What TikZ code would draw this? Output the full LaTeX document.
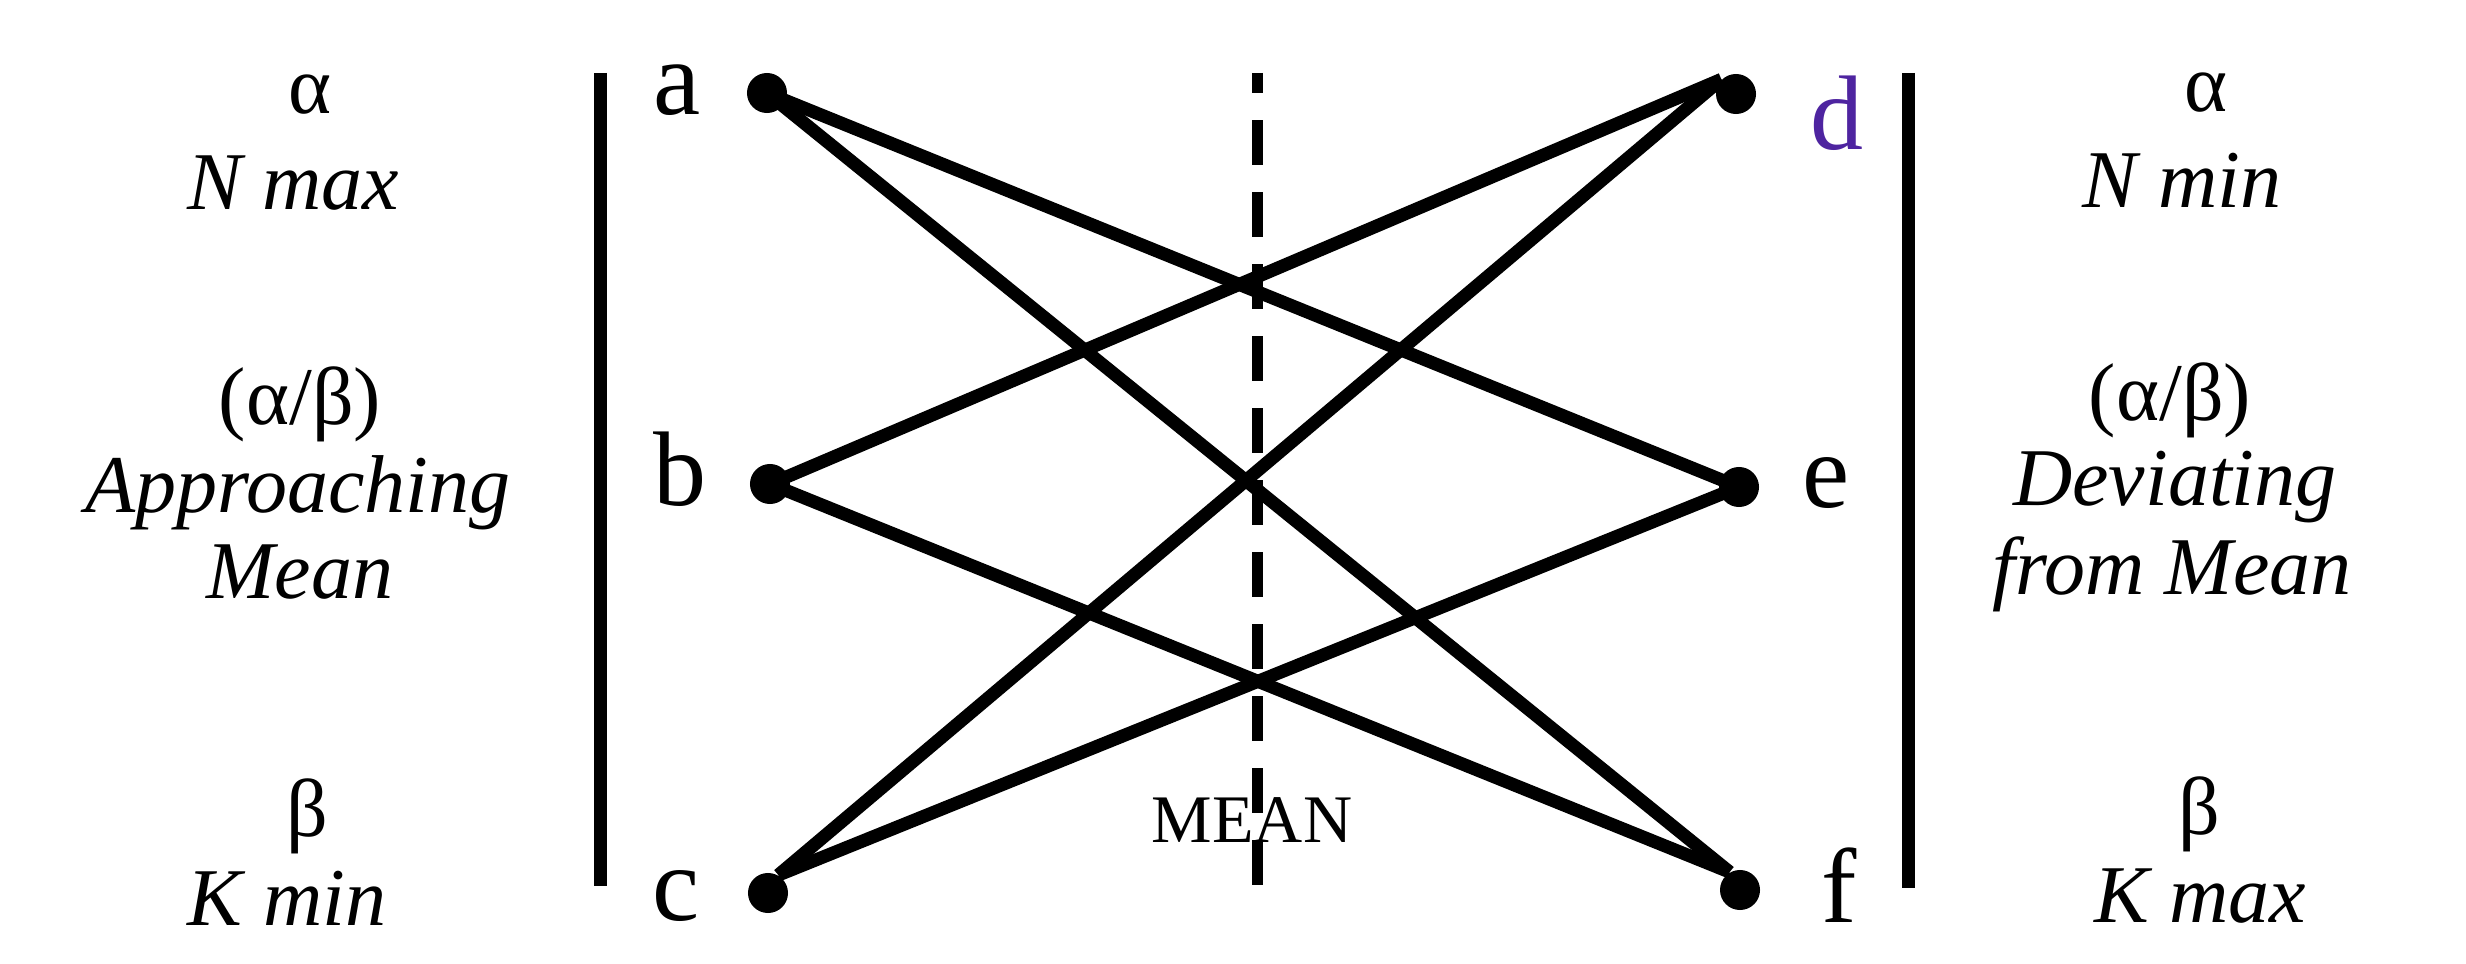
\documentclass[tikz,border=0pt]{standalone}
\usepackage{fontspec}
\setmainfont{Liberation Serif}
\definecolor{dpurple}{RGB}{78,36,160}
\begin{document}
\begin{tikzpicture}[x=0.01cm,y=-0.01cm,
  dot/.style={circle,fill=black,inner sep=0pt,minimum size=0.4cm},
  link/.style={line width=0.13cm},
  barline/.style={line width=0.13cm},
  meanline/.style={line width=0.11cm,dash pattern=on 0.45cm off 0.27cm,dash phase=0.25cm},
  lbl/.style={anchor=base,inner sep=0pt,font=\fontsize{1.06cm}{1.2cm}\selectfont},
  txt/.style={anchor=base,inner sep=0pt,font=\fontsize{0.82cm}{0.98cm}\selectfont},
  meantxt/.style={anchor=base,inner sep=0pt,font=\fontsize{0.68cm}{0.8cm}\selectfont},
  ]
\useasboundingbox (0,0) rectangle (2466,964);

% side bars
\coordinate (lbt) at (600,73);
\coordinate (lbb) at (600,886);
\coordinate (rbt) at (1908,73);
\coordinate (rbb) at (1908,888);
\draw[barline] (lbt) -- (lbb);
\draw[barline] (rbt) -- (rbb);

% mean line
\coordinate (mtop) at (1257,73);
\coordinate (mbot) at (1257,893);
\draw[meanline] (mtop) -- (mbot);
\node[meantxt] (meanlbl) at (1252,842) {MEAN};

% dots
\node[dot] (a) at (767,93) {};
\node[dot] (b) at (770,484) {};
\node[dot] (c) at (768,893) {};
\node[dot] (d) at (1736,94) {};
\node[dot] (e) at (1739,487) {};
\node[dot] (f) at (1740,890) {};

% connectors
\draw[link] (a.center) -- (e.center);
\draw[link] (a.center) -- (f.120);
\draw[link] (b.center) -- (d.135);
\draw[link] (b.center) -- (f.120);
\draw[link] (c.60) -- (d.135);
\draw[link] (c.60) -- (e.center);

% letter labels
\node[lbl] (la) at (677,115) {a};
\node[lbl] (lb) at (680,506) {b};
\node[lbl] (lc) at (676,920) {c};
\node[lbl,text=dpurple] (ld) at (1837,150) {d};
\node[lbl] (le) at (1826,508) {e};
\node[lbl] (lf) at (1839,922) {f};

% left column
\node[txt] (lalpha) at (310,114) {α};
\node[txt] (lnmax) at (293,210) {\itshape N max};
\node[txt] (lab) at (300,425) {(α/β)};
\node[txt] (lapp) at (298,513) {\itshape Approaching};
\node[txt] (lmean) at (300,598) {\itshape Mean};
\node[txt] (lbeta) at (307,836) {β};
\node[txt] (lkmin) at (287,925) {\itshape K min};

% right column
\node[txt] (ralpha) at (2206,112) {α};
\node[txt] (rnmin) at (2182,208) {\itshape N min};
\node[txt] (rab) at (2170,421) {(α/β)};
\node[txt] (rdev) at (2175,506) {\itshape Deviating};
\node[txt] (rfrom) at (2172,595) {\itshape from Mean};
\node[txt] (rbeta) at (2199,834) {β};
\node[txt] (rkmax) at (2200,922) {\itshape K max};
\end{tikzpicture}
\end{document}
